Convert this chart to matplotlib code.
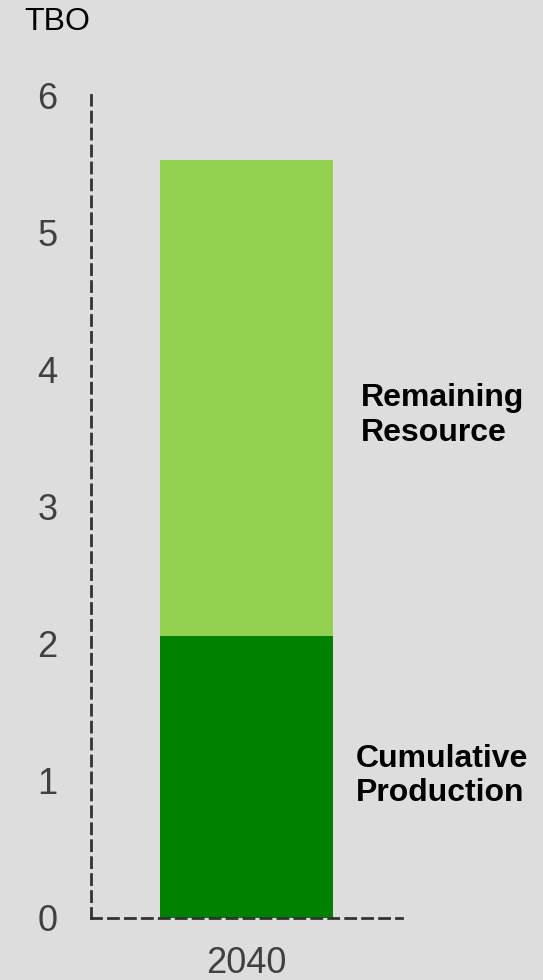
import matplotlib
matplotlib.use('Agg')
import matplotlib.pyplot as plt

years = ['2040']
cumulative = [2.06]
remaining = [3.47]
series_names = ['Cumulative\nProduction', 'Remaining\nResource']
colors = ['#008000', '#92d050']

plt.rcParams['font.family'] = ['Liberation Sans', 'DejaVu Sans']

fig = plt.figure(figsize=(5.43, 9.8), dpi=100)
fig.patch.set_facecolor('#dddddd')
ax = fig.add_axes([0.1676, 0.0633, 0.5727, 0.8395])
ax.set_facecolor('#dddddd')

x = list(range(len(years)))
ax.bar(x, cumulative, width=1.0, color=colors[0])
ax.bar(x, remaining, width=1.0, bottom=cumulative, color=colors[1])

ax.set_xlim(-0.9, 0.9)
ax.set_ylim(0, 6)
ax.set_xticks(x)
ax.set_xticklabels(years)
ax.set_yticks(range(0, 7))

for s in ['top', 'right']:
	ax.spines[s].set_visible(False)
for s in ['left', 'bottom']:
	ax.spines[s].set_color('#333333')
	ax.spines[s].set_linewidth(2)
	ax.spines[s].set_linestyle((0, (3.6, 2.5)))

ax.tick_params(axis='both', length=0, labelsize=26, labelcolor='#404040')
ax.tick_params(axis='y', pad=24)
ax.tick_params(axis='x', pad=20)

# labels to the right of the bar
ax.text(0.635, cumulative[0] / 2 + 0.005, series_names[0], fontsize=23, fontweight='bold',
	va='center', ha='left', linespacing=1.2, clip_on=False)
ax.text(0.66, cumulative[0] + remaining[0] / 2 - 0.13, series_names[1], fontsize=23, fontweight='bold',
	va='center', ha='left', linespacing=1.2, clip_on=False)

fig.text(24 / 543, 1 - 22 / 980, 'TBO', fontsize=23, va='center', ha='left')

fig.savefig('out.png', dpi=100, facecolor=fig.get_facecolor())
